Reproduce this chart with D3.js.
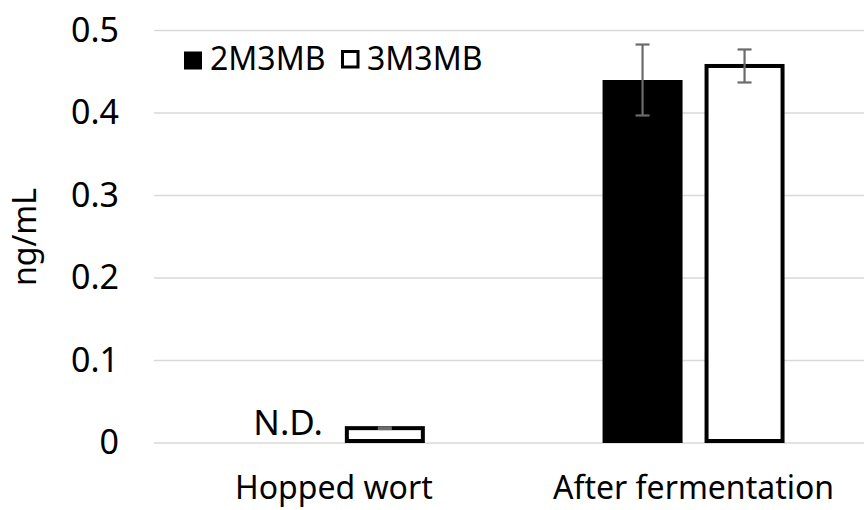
<!DOCTYPE html>
<html>
<head>
<meta charset="utf-8">
<script src="https://cdn.jsdelivr.net/npm/d3@7"></script>
<style>
  html, body { margin: 0; padding: 0; background: #fff; }
  svg { display: block; font-family: "Noto Sans", sans-serif; }
</style>
</head>
<body>
<svg id="chart" width="864" height="510"></svg>
<script>
// Categories, series and measured concentrations (ng/mL)
const categories = ["Hopped wort", "After fermentation"];
const series = ["2M3MB", "3M3MB"];
const values2M3MB = [null, 0.44];      // null = not detected
const values3M3MB = [0.018, 0.457];
const errors2M3MB = [null, 0.043];
const errors3M3MB = [0.001, 0.02];
const yTicks = [0, 0.1, 0.2, 0.3, 0.4, 0.5];
const ndLabel = "N.D.";
const yTitle = "ng/mL";

const svg = d3.select("#chart");

const y = d3.scaleLinear().domain([0, 0.5]).range([443, 30.5]);
const x = d3.scaleBand().domain(categories).range([154, 873.4]).padding(0);
const bw = x.bandwidth();
const xs = d3.scaleBand().domain(series)
  .range([bw / 2 - 91, bw / 2 + 91])
  .paddingInner(22 / 102).paddingOuter(0);

const sw = 4; // outline width of the open bars

// Horizontal gridlines
svg.append("g").selectAll("line").data(yTicks).join("line")
  .attr("x1", 154).attr("x2", 864)
  .attr("y1", d => y(d)).attr("y2", d => y(d))
  .attr("stroke", "#d9d9d9").attr("stroke-width", 1.5);

// Y axis tick labels
const yAxis = d3.axisLeft(y).tickValues(yTicks)
  .tickFormat(d => d === 0 ? "0" : d3.format(".1f")(d))
  .tickSize(0).tickPadding(0);
const ya = svg.append("g").attr("transform", "translate(119,0)").call(yAxis);
ya.select(".domain").remove();
ya.selectAll("text").attr("font-size", 34).attr("fill", "#000")
  .attr("font-family", "Noto Sans, sans-serif");

// Y axis title
svg.append("text")
  .attr("transform", "translate(36,237) rotate(-90)")
  .attr("text-anchor", "middle")
  .attr("font-size", 32).attr("fill", "#000")
  .text(yTitle);

// Rows of bar data
const rows = [];
categories.forEach((c, i) => {
  rows.push({ cat: c, s: "2M3MB", v: values2M3MB[i], e: errors2M3MB[i] });
  rows.push({ cat: c, s: "3M3MB", v: values3M3MB[i], e: errors3M3MB[i] });
});
const present = rows.filter(r => r.v !== null);

const bars = svg.append("g");
bars.selectAll("rect").data(present).join("rect")
  .attr("x", d => x(d.cat) + xs(d.s) + (d.s === "3M3MB" ? sw / 2 : 0))
  .attr("width", d => xs.bandwidth() - (d.s === "3M3MB" ? sw : 0))
  .attr("y", d => y(d.v))
  .attr("height", d => y(0) - y(d.v) - (d.s === "3M3MB" ? sw / 2 : 0))
  .attr("fill", d => d.s === "2M3MB" ? "#000" : "#fff")
  .attr("stroke", d => d.s === "2M3MB" ? "none" : "#000")
  .attr("stroke-width", sw);

// Error bars
const eb = svg.append("g").attr("stroke", "#6b6b6b").attr("stroke-width", 2.2);
present.filter(d => d.e).forEach(d => {
  const cx = x(d.cat) + xs(d.s) + xs.bandwidth() / 2;
  const y1 = y(d.v + d.e), y2 = y(d.v - d.e);
  eb.append("line").attr("x1", cx).attr("x2", cx).attr("y1", y1).attr("y2", y2);
  eb.append("line").attr("x1", cx - 7).attr("x2", cx + 7).attr("y1", y1).attr("y2", y1);
  eb.append("line").attr("x1", cx - 7).attr("x2", cx + 7).attr("y1", y2).attr("y2", y2);
});

// Not-detected label
rows.filter(d => d.v === null).forEach(d => {
  svg.append("text")
    .attr("x", x(d.cat) + xs(d.s) + xs.bandwidth())
    .attr("y", 435)
    .attr("text-anchor", "end")
    .attr("font-size", 35).attr("fill", "#000")
    .text(ndLabel);
});

// X axis category labels
const xAxis = d3.axisBottom(x).tickSize(0).tickPadding(0);
const xa = svg.append("g").attr("transform", "translate(0,476)").call(xAxis);
xa.select(".domain").remove();
xa.selectAll("text").attr("font-size", 32).attr("fill", "#000")
  .attr("font-family", "Noto Sans, sans-serif");

// Legend
const legendX = [184, 341];
const lg = svg.append("g");
series.forEach((s, i) => {
  lg.append("rect")
    .attr("x", legendX[i] + (i ? 1.5 : 0)).attr("y", 51.5)
    .attr("width", i ? 15.5 : 18).attr("height", i ? 15.5 : 18)
    .attr("fill", i ? "#fff" : "#000")
    .attr("stroke", i ? "#000" : "none").attr("stroke-width", 3);
  lg.append("text")
    .attr("x", legendX[i] + 26).attr("y", 70)
    .attr("font-size", 32).attr("fill", "#000")
    .text(s);
});
</script>
</body>
</html>
